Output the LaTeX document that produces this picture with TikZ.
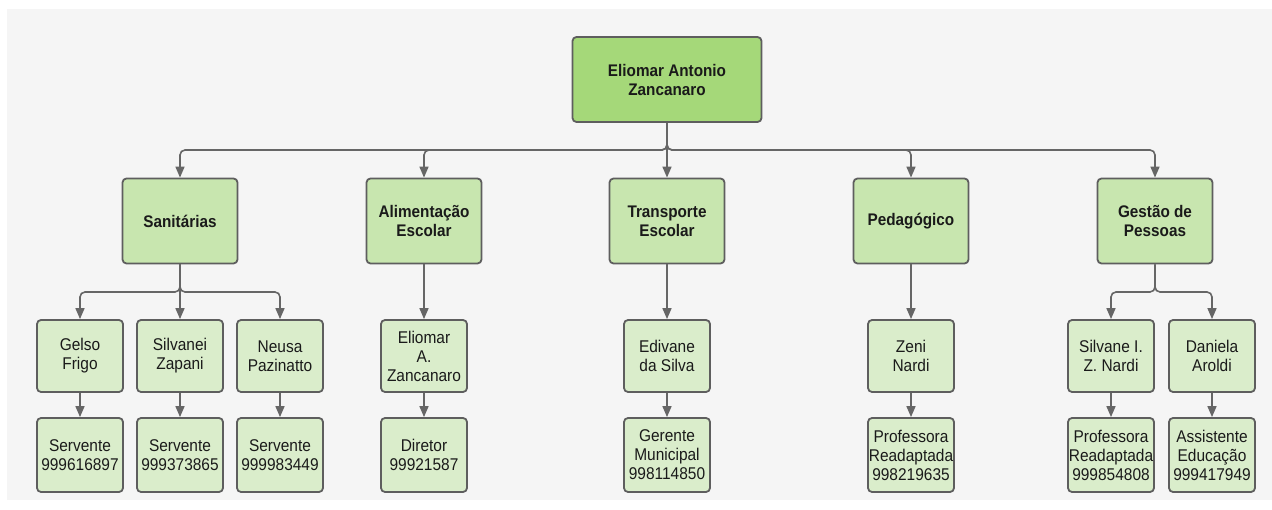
\documentclass[tikz,border=0pt]{standalone}
\usepackage{fontspec}
\setmainfont{Liberation Sans}[FakeStretch=0.91]
\usetikzlibrary{arrows.meta}
\definecolor{bgc}{HTML}{F5F5F5}
\definecolor{topfill}{HTML}{A5D879}
\definecolor{lonefill}{HTML}{C8E6AF}
\definecolor{ltwofill}{HTML}{DAEDCB}
\definecolor{bordc}{HTML}{5E5E5E}
\definecolor{arrc}{HTML}{666666}
\definecolor{txtc}{HTML}{1A1A1A}
\tikzset{
  basebox/.style={draw=bordc, line width=1.8pt, rounded corners=4pt, align=center,
    inner sep=0pt, text=txtc, font={\fontsize{17}{19}\selectfont}},
  topbox/.style={basebox, fill=topfill, minimum width=189pt, minimum height=85pt,
    font={\fontsize{16.8}{19}\selectfont\bfseries}},
  lonebox/.style={basebox, fill=lonefill, minimum width=115pt, minimum height=85pt,
    font={\fontsize{16.8}{19}\selectfont\bfseries}},
  ltwobox/.style={basebox, fill=ltwofill, minimum width=86pt, minimum height=72pt},
  lthreebox/.style={basebox, fill=ltwofill, minimum width=86pt, minimum height=74pt},
  conn/.style={draw=arrc, line width=1.6pt, rounded corners=5pt,
    -{Triangle[length=11pt,width=9pt]}}
}
\begin{document}
\begin{tikzpicture}[x=1pt,y=-1pt]
\useasboundingbox (0,0) rectangle (1272,510);
\fill[bgc] (7,9) rectangle (1272,500);

\node[topbox] (top) at (667,79.5) {Eliomar Antonio\\Zancanaro};

\node[lonebox] (sani)  at (180,221)   {Sanitárias};
\node[lonebox] (alim)  at (424,221)   {Alimentação\\Escolar};
\node[lonebox] (trans) at (667,221)   {Transporte\\Escolar};
\node[lonebox] (ped)   at (911,221)   {Pedagógico};
\node[lonebox] (gest)  at (1155,221)  {Gestão de\\Pessoas};

\node[ltwobox] (gelso)    at (80,356)    {Gelso\\Frigo};
\node[ltwobox] (silvanei) at (180,356)   {Silvanei\\Zapani};
\node[ltwobox] (neusa)    at (280,356)   {Neusa\\Pazinatto};
\node[ltwobox] (eliomar)  at (424,356)   {Eliomar\\A.\\Zancanaro};
\node[ltwobox] (edivane)  at (667,356)   {Edivane\\da Silva};
\node[ltwobox] (zeni)     at (911,356)   {Zeni\\Nardi};
\node[ltwobox] (silvane)  at (1111,356)  {Silvane I.\\Z. Nardi};
\node[ltwobox] (daniela)  at (1212,356)  {Daniela\\Aroldi};

\node[lthreebox] (r1) at (80,455)    {Servente\\999616897};
\node[lthreebox] (r2) at (180,455)   {Servente\\999373865};
\node[lthreebox] (r3) at (280,455)   {Servente\\999983449};
\node[lthreebox] (r4) at (424,455)   {Diretor\\99921587};
\node[lthreebox] (r5) at (667,455)   {Gerente\\Municipal\\998114850};
\node[lthreebox] (r6) at (911,455)   {Professora\\Readaptada\\998219635};
\node[lthreebox] (r7) at (1111,455)  {Professora\\Readaptada\\999854808};
\node[lthreebox] (r8) at (1212,455)  {Assistente\\Educação\\999417949};

\coordinate (bus) at (0,150);
\coordinate (sbus) at (0,292);

\draw[conn] (top.south) |- (sani.north |- bus) -- (sani.north);
\draw[conn] (top.south) |- (alim.north |- bus) -- (alim.north);
\draw[conn] (top.south) -- (trans.north);
\draw[conn] (top.south) |- (ped.north |- bus) -- (ped.north);
\draw[conn] (top.south) |- (gest.north |- bus) -- (gest.north);

\draw[conn] (sani.south) |- (gelso.north |- sbus) -- (gelso.north);
\draw[conn] (sani.south) -- (silvanei.north);
\draw[conn] (sani.south) |- (neusa.north |- sbus) -- (neusa.north);
\draw[conn] (alim.south) -- (eliomar.north);
\draw[conn] (trans.south) -- (edivane.north);
\draw[conn] (ped.south) -- (zeni.north);
\draw[conn] (gest.south) |- (silvane.north |- sbus) -- (silvane.north);
\draw[conn] (gest.south) |- (daniela.north |- sbus) -- (daniela.north);

\draw[conn] (gelso.south) -- (r1.north);
\draw[conn] (silvanei.south) -- (r2.north);
\draw[conn] (neusa.south) -- (r3.north);
\draw[conn] (eliomar.south) -- (r4.north);
\draw[conn] (edivane.south) -- (r5.north);
\draw[conn] (zeni.south) -- (r6.north);
\draw[conn] (silvane.south) -- (r7.north);
\draw[conn] (daniela.south) -- (r8.north);
\end{tikzpicture}
\end{document}
